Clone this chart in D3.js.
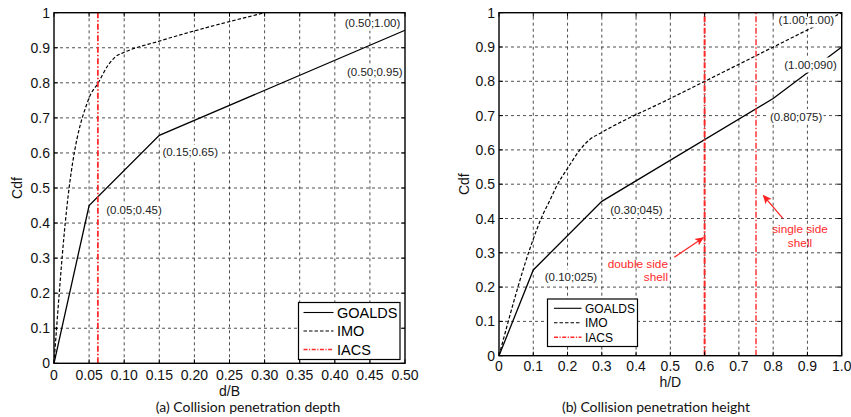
<!DOCTYPE html>
<html><head><meta charset="utf-8">
<script src="https://cdn.jsdelivr.net/npm/d3@7"></script>
<style>
html,body{margin:0;padding:0;background:#fff;}
svg{display:block;font-family:"Liberation Sans",Arial,sans-serif;}
</style></head>
<body>
<svg id="chart" width="851" height="417"></svg>
<script>
// ---------- data: panel (a) collision penetration depth ----------
const depthGoaldsX = [0, 0.05, 0.15, 0.50];
const depthGoaldsY = [0, 0.45, 0.65, 0.95];
const depthImoX = [0, 0.016, 0.05, 0.063, 0.077, 0.088, 0.1, 0.15, 0.30];
const depthImoY = [0, 0.40, 0.757, 0.80, 0.85, 0.875, 0.887, 0.919, 1.00];
const depthIacsX = [0.0625];
const depthXTicks = [0, 0.05, 0.10, 0.15, 0.20, 0.25, 0.30, 0.35, 0.40, 0.45, 0.50];
const depthLabels = ["(0.50;1.00)", "(0.50;0.95)", "(0.15;0.65)", "(0.05;0.45)"];
const depthLabelX = [0.4537, 0.457, 0.194, 0.114];
const depthLabelY = [0.970, 0.832, 0.602, 0.437];

// ---------- data: panel (b) collision penetration height ----------
const heightGoaldsX = [0, 0.1, 0.3, 0.8, 1.0];
const heightGoaldsY = [0, 0.25, 0.45, 0.75, 0.90];
const heightImoX = [0, 0.1, 0.123, 0.149, 0.171, 0.2, 0.236, 0.262, 0.3, 0.5, 1.0];
const heightImoY = [0, 0.34, 0.40, 0.454, 0.50, 0.546, 0.60, 0.628, 0.651, 0.75, 1.0];
const heightIacsX = [0.6, 0.75];
const heightXTicks = [0, 0.1, 0.2, 0.3, 0.4, 0.5, 0.6, 0.7, 0.8, 0.9, 1.0];
const heightLabels = ["(1.00;1.00)", "(1.00;090)", "(0.80;075)", "(0.30;045)", "(0.10;025)"];
const heightLabelX = [0.897, 0.909, 0.867, 0.401, 0.210];
const heightLabelY = [0.9786, 0.8475, 0.697, 0.4248, 0.230];
const noteLines = [["double side", "shell"], ["single side", "shell"]];
const noteTail = [[0.5115, 0.287], [0.8277, 0.401]];
const noteHead = [[0.596, 0.344], [0.7716, 0.467]];

const yTicks = [0, 0.1, 0.2, 0.3, 0.4, 0.5, 0.6, 0.7, 0.8, 0.9, 1.0];
const seriesNames = ["GOALDS", "IMO", "IACS"];

const svg = d3.select("#chart");
const defs = svg.append("defs");
defs.append("marker").attr("id", "arrowRed").attr("viewBox", "0 0 10 10")
  .attr("refX", 9).attr("refY", 5).attr("markerWidth", 9).attr("markerHeight", 9)
  .attr("markerUnits", "userSpaceOnUse").attr("orient", "auto")
  .append("path").attr("d", "M0,0.5 L10,5 L0,9.5 L2.5,5 Z").attr("fill", "#ff2020");

const styles = {
  GOALDS: {stroke: "#000", dash: null, w: 1.3},
  IMO: {stroke: "#000", dash: "3.5,2", w: 1.2},
  IACS: {stroke: "#ff2a2a", dash: "6,2,1.5,2", w: 1.6}
};

function panel(cfg) {
  const g = svg.append("g");
  const x = d3.scaleLinear().domain([0, cfg.xMax]).range([cfg.left, cfg.right]);
  const y = d3.scaleLinear().domain([0, 1]).range([cfg.bottom, cfg.top]);

  // grid
  g.append("g").selectAll("line").data(cfg.xTicks.slice(1, -1)).join("line")
    .attr("x1", d => x(d)).attr("x2", d => x(d)).attr("y1", y(0)).attr("y2", y(1))
    .attr("stroke", "#222").attr("stroke-width", 0.8).attr("stroke-dasharray", "3,3");
  g.append("g").selectAll("line").data(yTicks.slice(1, -1)).join("line")
    .attr("y1", d => y(d)).attr("y2", d => y(d)).attr("x1", x(0)).attr("x2", x(cfg.xMax))
    .attr("stroke", "#222").attr("stroke-width", 0.8).attr("stroke-dasharray", "3,3");

  const line = d3.line().x(d => x(d[0])).y(d => y(d[1]));
  const imo = cfg.imoX.map((v, i) => [v, cfg.imoY[i]]);
  const imoCurve = d3.line().x(d => x(d[0])).y(d => y(d[1])).curve(d3.curveMonotoneX);
  g.append("path").attr("d", imoCurve(imo)).attr("fill", "none")
    .attr("stroke", styles.IMO.stroke).attr("stroke-width", styles.IMO.w).attr("stroke-dasharray", styles.IMO.dash);
  const goa = cfg.goaX.map((v, i) => [v, cfg.goaY[i]]);
  g.append("path").attr("d", line(goa)).attr("fill", "none")
    .attr("stroke", styles.GOALDS.stroke).attr("stroke-width", styles.GOALDS.w);

  // IACS vertical lines
  g.append("g").selectAll("line").data(cfg.iacsX).join("line")
    .attr("x1", d => x(d)).attr("x2", d => x(d)).attr("y1", y(0)).attr("y2", y(1))
    .attr("stroke", styles.IACS.stroke).attr("stroke-width", (d, i) => cfg.iacsW[i])
    .attr("stroke-dasharray", styles.IACS.dash);

  // point labels with white background
  cfg.labels.forEach((t, i) => {
    const lg = g.append("g");
    const tx = lg.append("text").attr("x", x(cfg.labelX[i])).attr("y", y(cfg.labelY[i]) + 4)
      .attr("text-anchor", "middle").attr("font-size", "11.5px").attr("fill", "#222").text(t);
    const b = tx.node().getBBox();
    lg.insert("rect", "text").attr("x", b.x - 1).attr("y", b.y - 1.5)
      .attr("width", b.width + 2).attr("height", b.height + 3).attr("fill", "#fff");
  });

  // notes
  if (cfg.notes) {
    cfg.notes.forEach((lines, i) => {
      const tail = cfg.noteTail[i], head = cfg.noteHead[i];
      g.append("line").attr("x1", x(tail[0])).attr("y1", y(tail[1]))
        .attr("x2", x(head[0])).attr("y2", y(head[1]))
        .attr("stroke", "#ff2020").attr("stroke-width", 1.2).attr("marker-end", "url(#arrowRed)");
      const nt = g.append("text").attr("font-size", "11.8px").attr("fill", "#ff2a2a")
        .attr("text-anchor", cfg.noteAnchor[i]);
      lines.forEach((s, k) => {
        nt.append("tspan").attr("x", cfg.noteX[i]).attr("y", cfg.noteY[i] + k * 13.5).text(s);
      });
    });
  }

  // axes ticks (inward)
  const tickLen = 4;
  const ax = g.append("g").attr("stroke", "#000").attr("stroke-width", 1);
  cfg.xTicks.forEach(d => {
    ax.append("line").attr("x1", x(d)).attr("x2", x(d)).attr("y1", y(0)).attr("y2", y(0) - tickLen);
    ax.append("line").attr("x1", x(d)).attr("x2", x(d)).attr("y1", y(1)).attr("y2", y(1) + tickLen);
  });
  yTicks.forEach(d => {
    ax.append("line").attr("y1", y(d)).attr("y2", y(d)).attr("x1", x(0)).attr("x2", x(0) + tickLen);
    ax.append("line").attr("y1", y(d)).attr("y2", y(d)).attr("x1", x(cfg.xMax)).attr("x2", x(cfg.xMax) - tickLen);
  });

  // legend
  const L = cfg.legend;
  const lgd = g.append("g");
  lgd.append("rect").attr("x", L.x).attr("y", L.y).attr("width", L.w).attr("height", L.h)
    .attr("fill", "#fff").attr("stroke", "#000").attr("stroke-width", 1.2);
  seriesNames.forEach((n, i) => {
    const yy = L.y + L.row0 + i * L.rowH;
    const st = styles[n];
    lgd.append("line").attr("x1", L.x + L.lx0).attr("x2", L.x + L.lx1).attr("y1", yy).attr("y2", yy)
      .attr("stroke", st.stroke).attr("stroke-width", n === "IACS" ? 1.4 : 1.1)
      .attr("stroke-dasharray", n === "IACS" ? "4,1.5,1.2,1.5" : st.dash);
    lgd.append("text").attr("x", L.x + L.tx).attr("y", yy + L.fs * 0.36).attr("font-size", L.fs + "px")
      .attr("fill", "#000").text(n);
  });

  g.append("rect").attr("x", x(0)).attr("y", y(1)).attr("width", x(cfg.xMax) - x(0)).attr("height", y(0) - y(1))
    .attr("fill", "none").attr("stroke", "#000").attr("stroke-width", 1.4);

  // tick labels
  g.append("g").selectAll("text").data(cfg.xTicks).join("text")
    .attr("x", d => x(d)).attr("y", y(0) + cfg.xLabOff).attr("text-anchor", "middle")
    .attr("font-size", "14px").attr("fill", "#111").text(cfg.xFmt);
  g.append("g").selectAll("text").data(yTicks).join("text")
    .attr("x", x(0) - 4).attr("y", d => y(d) + 5).attr("text-anchor", "end")
    .attr("font-size", "14px").attr("fill", "#111").text(d => d === 0 ? "0" : d === 1 ? "1" : d.toFixed(1));

  // axis titles
  g.append("text").attr("x", (x(0) + x(cfg.xMax)) / 2).attr("y", cfg.xTitleY).attr("text-anchor", "middle")
    .attr("font-size", "14px").attr("fill", "#111").text(cfg.xTitle);
  g.append("text").attr("transform", `translate(${cfg.yTitleX},${(y(0) + y(1)) / 2}) rotate(-90)`)
    .attr("text-anchor", "middle").attr("font-size", "14px").attr("fill", "#111").text("Cdf");
  g.append("text").attr("x", cfg.capX).attr("y", 412).attr("text-anchor", "middle")
    .style("font-family", "Lato, 'Open Sans', sans-serif").attr("font-size", "14px").attr("fill", "#111")
    .text(cfg.caption);
}

panel({
  left: 54, right: 405, top: 12.7, bottom: 363.3, xMax: 0.5,
  xTicks: depthXTicks, xFmt: d => d === 0 ? "0" : d.toFixed(2), xLabOff: 17,
  goaX: depthGoaldsX, goaY: depthGoaldsY, imoX: depthImoX, imoY: depthImoY,
  iacsX: depthIacsX, iacsW: [1.8],
  labels: depthLabels, labelX: depthLabelX, labelY: depthLabelY,
  legend: {x: 298.5, y: 302.5, w: 101.5, h: 57, row0: 10, rowH: 18.5, lx0: 5, lx1: 35, tx: 38.5, fs: 14.5},
  xTitle: "d/B", xTitleY: 396, yTitleX: 22, caption: "(a) Collision penetration depth", capX: 248
});

panel({
  left: 499, right: 841.7, top: 12.7, bottom: 355.7, xMax: 1.0,
  xTicks: heightXTicks, xFmt: d => d === 0 ? "0" : d.toFixed(1), xLabOff: 15,
  goaX: heightGoaldsX, goaY: heightGoaldsY, imoX: heightImoX, imoY: heightImoY,
  iacsX: heightIacsX, iacsW: [2.0, 1.4],
  labels: heightLabels, labelX: heightLabelX, labelY: heightLabelY,
  notes: noteLines, noteTail: noteTail, noteHead: noteHead,
  noteX: [668, 800], noteY: [267.5, 233], noteAnchor: ["end", "middle"],
  legend: {x: 547.5, y: 299, w: 90, h: 47.5, row0: 9.3, rowH: 14.5, lx0: 6.5, lx1: 34, tx: 37.5, fs: 12},
  xTitle: "h/D", xTitleY: 387, yTitleX: 469, caption: "(b) Collision penetration height", capX: 656
});
</script>
</body></html>
